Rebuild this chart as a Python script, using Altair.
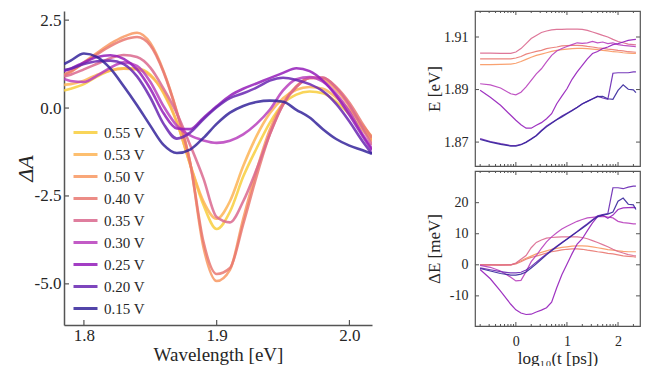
import altair as alt
import pandas as pd

# ---------------- left panel data ----------------
energy = [1.785, 1.79, 1.80, 1.81, 1.82, 1.83, 1.84, 1.85, 1.86, 1.87, 1.88, 1.89, 1.90,
          1.91, 1.92, 1.93, 1.94, 1.95, 1.96, 1.97, 1.98, 1.99, 2.00, 2.01, 2.017]
labels = ["0.55 V", "0.53 V", "0.50 V", "0.40 V", "0.35 V", "0.30 V", "0.25 V", "0.20 V", "0.15 V"]
colors = ["#f8ce3d", "#fdb456", "#f89862", "#e97871", "#da688e", "#b83fbd", "#941dba", "#6826b2", "#35259b"]

dA_055 = [0.50, 0.55, 0.68, 0.90, 1.07, 1.13, 1.12, 0.95, 0.42, -0.40, -1.60, -2.75, -3.44,
          -2.95, -1.95, -1.15, -0.42, 0.12, 0.38, 0.47, 0.42, 0.18, -0.18, -0.62, -0.90]
dA_053 = [0.66, 0.68, 0.78, 0.95, 1.07, 1.12, 1.10, 0.92, 0.45, -0.40, -1.60, -2.65, -3.15,
          -2.65, -1.65, -0.80, -0.15, 0.28, 0.52, 0.60, 0.55, 0.30, -0.05, -0.50, -0.82]
dA_050 = [0.92, 1.02, 1.30, 1.57, 1.83, 2.03, 2.14, 1.85, 1.05, -0.10, -1.55, -3.95, -4.92,
          -4.60, -3.15, -1.78, -0.62, 0.15, 0.62, 0.86, 0.82, 0.52, 0.05, -0.55, -0.95]
dA_040 = [0.95, 1.05, 1.28, 1.53, 1.76, 1.94, 2.02, 1.78, 1.02, -0.12, -1.55, -3.80, -4.72,
          -4.55, -3.30, -1.95, -0.75, 0.10, 0.60, 0.85, 0.86, 0.60, 0.15, -0.45, -0.85]
dA_035 = [0.90, 0.95, 1.10, 1.26, 1.42, 1.51, 1.45, 1.15, 0.55, -0.15, -1.05, -2.00, -3.10,
          -3.25, -2.65, -1.75, -0.75, 0.10, 0.60, 0.86, 0.87, 0.58, 0.08, -0.58, -1.05]
dA_030 = [0.83, 0.77, 0.74, 0.92, 1.15, 1.30, 1.20, 0.75, 0.05, -0.50, -0.78, -0.92, -0.99,
          -0.93, -0.75, -0.45, -0.05, 0.50, 0.82, 0.88, 0.75, 0.40, -0.10, -0.75, -1.15]
dA_025 = [1.05, 1.12, 1.30, 1.45, 1.50, 1.40, 1.10, 0.55, -0.15, -0.58, -0.60, -0.28, 0.05,
          0.35, 0.55, 0.70, 0.85, 1.00, 1.13, 1.05, 0.78, 0.35, -0.20, -0.80, -1.20]
dA_020 = [1.08, 1.12, 1.25, 1.33, 1.35, 1.25, 0.90, 0.30, -0.45, -0.87, -0.70, -0.32, 0.02,
          0.28, 0.42, 0.58, 0.78, 0.86, 0.80, 0.68, 0.48, 0.12, -0.38, -0.95, -1.30]
dA_015 = [1.25, 1.35, 1.55, 1.45, 1.12, 0.62, 0.08, -0.50, -1.05, -1.28, -1.18, -0.85, -0.45,
          -0.13, 0.06, 0.17, 0.21, 0.18, -0.05, -0.27, -0.60, -0.88, -1.07, -1.20, -1.30]
left_series = [dA_055, dA_053, dA_050, dA_040, dA_035, dA_030, dA_025, dA_020, dA_015]

left_xticks = [1.8, 1.9, 2.0]
left_yticks = [2.5, 0.0, -2.5, -5.0]

# ---------------- right panels data ----------------
logt = [-0.7, -0.5, -0.3, -0.1, 0.0, 0.1, 0.2, 0.3, 0.4, 0.5, 0.6, 0.7, 0.8, 0.9, 1.0,
        1.1, 1.2, 1.3, 1.4, 1.5, 1.6, 1.7, 1.8, 1.9, 2.0, 2.1, 2.2, 2.3, 2.35]
right_labels = ["0.50 V", "0.40 V", "0.35 V", "0.30 V", "0.25 V", "0.20 V", "0.15 V"]

E_050 = [1.8995, 1.8995, 1.8996, 1.8997, 1.9000, 1.9007, 1.9015, 1.9023, 1.9030, 1.9035,
         1.9040, 1.9045, 1.9049, 1.9052, 1.9054, 1.9056, 1.9057, 1.9057, 1.9056, 1.9054,
         1.9052, 1.9049, 1.9047, 1.9044, 1.9043, 1.9040, 1.9039, 1.9038, 1.9038]
E_040 = [1.9017, 1.9017, 1.9017, 1.9017, 1.9020, 1.9026, 1.9035, 1.9040, 1.9045, 1.9049,
         1.9056, 1.9059, 1.9062, 1.9066, 1.9067, 1.9068, 1.9068, 1.9067, 1.9064, 1.9062,
         1.9059, 1.9057, 1.9054, 1.9052, 1.9049, 1.9047, 1.9044, 1.9043, 1.9042]
E_035 = [1.9039, 1.9039, 1.9038, 1.9038, 1.9043, 1.9056, 1.9075, 1.9094, 1.9106, 1.9117,
         1.9123, 1.9127, 1.9129, 1.9129, 1.9130, 1.9130, 1.9130, 1.9129, 1.9125, 1.9119,
         1.9113, 1.9106, 1.9100, 1.9091, 1.9083, 1.9078, 1.9073, 1.9071, 1.9070]
E_030 = [1.8922, 1.8918, 1.8906, 1.8884, 1.8880, 1.8890, 1.8910, 1.8935, 1.8960, 1.8979,
         1.9005, 1.9030, 1.9047, 1.9056, 1.9064, 1.9071, 1.9078, 1.9076, 1.9078, 1.9083,
         1.9078, 1.9081, 1.9075, 1.9078, 1.9071, 1.9068, 1.9066, 1.9064, 1.9063]
E_025 = [1.8897, 1.8871, 1.8840, 1.8802, 1.8783, 1.8766, 1.8753, 1.8753, 1.8764, 1.8774,
         1.8789, 1.8808, 1.8846, 1.8875, 1.8903, 1.8939, 1.8967, 1.8992, 1.9017, 1.9037,
         1.9045, 1.9056, 1.9062, 1.9071, 1.9075, 1.9081, 1.9087, 1.9090, 1.9091]
E_020 = [1.8713, 1.8702, 1.8694, 1.8687, 1.8687, 1.8691, 1.8700, 1.8713, 1.8725, 1.8744,
         1.8761, 1.8774, 1.8786, 1.8799, 1.8810, 1.8821, 1.8833, 1.8846, 1.8855, 1.8865,
         1.8875, 1.8868, 1.8863, 1.8962, 1.8964, 1.8964, 1.8964, 1.8967, 1.8967]
E_015 = [1.8710, 1.8700, 1.8691, 1.8685, 1.8685, 1.8690, 1.8699, 1.8711, 1.8724, 1.8742,
         1.8758, 1.8772, 1.8785, 1.8796, 1.8808, 1.8819, 1.8832, 1.8845, 1.8855, 1.8864,
         1.8873, 1.8874, 1.8865, 1.8863, 1.8897, 1.8918, 1.8901, 1.8899, 1.8888]
E_series = [E_050, E_040, E_035, E_030, E_025, E_020, E_015]

dE_050 = [0.0, 0.0, 0.0, 0.0, 0.5, 1.3, 2.1, 2.8, 3.5, 4.0, 4.5, 5.0, 5.3, 5.6, 5.8,
          6.0, 6.1, 6.1, 6.0, 5.8, 5.5, 5.2, 4.9, 4.7, 4.5, 4.3, 4.2, 4.2, 4.2]
dE_040 = [0.0, 0.0, 0.0, 0.0, 0.3, 1.0, 1.8, 2.4, 2.8, 3.3, 3.8, 4.2, 4.5, 4.8, 5.0,
          5.1, 5.1, 5.0, 4.7, 4.5, 4.2, 4.0, 3.7, 3.5, 3.2, 2.9, 2.7, 2.6, 2.5]
dE_035 = [0.0, 0.0, -0.1, 0.0, 0.6, 1.8, 3.0, 5.5, 7.2, 8.0, 8.6, 8.8, 8.9, 9.0, 9.0,
          9.0, 9.0, 8.8, 8.4, 7.8, 7.2, 6.5, 5.8, 5.0, 4.3, 3.8, 3.3, 3.0, 2.9]
dE_030 = [-0.2, -0.8, -2.0, -4.0, -5.2, -5.0, -2.2, 1.0, 3.0, 5.3, 7.4, 9.0, 10.3, 11.5, 12.4,
          13.2, 14.0, 14.6, 15.1, 15.3, 15.5, 15.6, 15.4, 15.1, 14.0, 13.6, 13.4, 13.2, 13.2]
dE_025 = [-1.5, -4.5, -8.5, -12.7, -14.5, -15.5, -16.0, -15.9, -15.2, -14.6, -13.8, -12.0, -7.4, -3.2, 0.2,
          3.6, 6.7, 8.4, 11.0, 13.5, 15.5, 16.0, 15.0, 16.0, 17.8, 18.3, 18.4, 18.5, 18.3]
dE_020 = [-1.0, -1.6, -2.2, -2.6, -2.6, -2.4, -1.7, -0.5, 0.8, 2.2, 3.5, 4.8, 6.0, 7.2, 8.3,
          9.5, 10.7, 12.0, 13.2, 14.5, 15.8, 16.2, 16.5, 24.8, 24.8, 24.5, 25.0, 25.3, 25.3]
dE_015 = [-1.2, -2.0, -2.8, -3.3, -3.3, -3.0, -2.3, -1.0, 0.3, 1.8, 3.2, 4.5, 5.8, 7.0, 8.2,
          9.4, 10.6, 11.8, 13.0, 14.3, 15.5, 16.0, 16.3, 17.0, 20.5, 21.5, 19.5, 19.3, 17.8]
dE_series = [dE_050, dE_040, dE_035, dE_030, dE_025, dE_020, dE_015]

top_yticks = [1.87, 1.89, 1.91]
bot_yticks = [-10, 0, 10, 20]
right_xticks = [0, 1, 2]
right_minor = [-0.699, -0.523, -0.398, -0.301, -0.222, -0.155, -0.097, -0.046,
               0.301, 0.477, 0.602, 0.699, 0.778, 0.845, 0.903, 0.954,
               1.301, 1.477, 1.602, 1.699, 1.778, 1.845, 1.903, 1.954, 2.301]

# ---------------- tables ----------------
df_left = pd.DataFrame([{"E": e, "dA": v, "V": lab}
                        for lab, ys in zip(labels, left_series) for e, v in zip(energy, ys)])
df_top = pd.DataFrame([{"t": t, "E": v, "V": lab}
                       for lab, ys in zip(right_labels, E_series) for t, v in zip(logt, ys)])
df_bot = pd.DataFrame([{"t": t, "dE": v, "V": lab}
                       for lab, ys in zip(right_labels, dE_series) for t, v in zip(logt, ys)])

FONT = "Liberation Serif"
TXT = "#262626"
AX = "#555555"
color_scale = alt.Scale(domain=labels, range=colors)
MINUS = "replace(format(datum.value, '{f}'), '\u2212', '-')"

# ---------------- left panel ----------------
LW, LH = 308, 314
xs_left = alt.Scale(domain=[1.785, 2.017], nice=False, zero=False)
ys_left = alt.Scale(domain=[-6.17, 2.76], nice=False, zero=False)

ax_left_x = alt.Axis(
    values=left_xticks, labelExpr=MINUS.format(f=".1f"), title="Wavelength [eV]",
    ticks=False, tickSize=0, grid=False, domainColor=AX, domainWidth=1.5,
    labelFont=FONT, labelFontSize=17, labelColor=TXT, labelPadding=2,
    titleFont=FONT, titleFontSize=19, titleFontWeight="normal", titleColor=TXT, titlePadding=2)
ax_left_y = alt.Axis(
    values=left_yticks, labelExpr=MINUS.format(f=".1f"), title="ΔA",
    ticks=False, tickSize=0, grid=False, domainColor=AX, domainWidth=1.5,
    labelFont=FONT, labelFontSize=17, labelColor=TXT, labelPadding=3,
    titleFont=FONT, titleFontSize=22, titleFontWeight="normal", titleFontStyle="italic",
    titleColor=TXT, titleX=-32, titleBaseline="alphabetic")

left_lines = alt.Chart(df_left).mark_line(
    strokeWidth=2.6, strokeOpacity=0.85, interpolate="monotone", clip=True
).encode(
    x=alt.X("E:Q", scale=xs_left, axis=ax_left_x),
    y=alt.Y("dA:Q", scale=ys_left, axis=ax_left_y),
    color=alt.Color("V:N", scale=color_scale, legend=alt.Legend(
        title=None, orient="none", legendX=8, legendY=108, symbolType="stroke",
        symbolSize=576, symbolStrokeWidth=3, symbolOpacity=0.85,
        labelFont=FONT, labelFontSize=15, labelColor=TXT, labelOffset=5,
        rowPadding=-1.5, padding=0)),
)

left_yt = alt.Chart(pd.DataFrame({"v": left_yticks})).mark_rule(color=AX, strokeWidth=1.2).encode(
    y=alt.Y("v:Q", scale=ys_left, axis=ax_left_y), x=alt.value(0), x2=alt.value(5))
left_xt = alt.Chart(pd.DataFrame({"v": left_xticks})).mark_rule(color=AX, strokeWidth=1.2).encode(
    x=alt.X("v:Q", scale=xs_left, axis=ax_left_x), y=alt.value(LH), y2=alt.value(LH - 5))

left = alt.layer(left_lines, left_yt, left_xt).properties(width=LW, height=LH)

# ---------------- right panels ----------------
RW, RH = 165, 155
xs_right = alt.Scale(domain=[-0.8, 2.43], nice=False, zero=False)
ys_top = alt.Scale(domain=[1.8609, 1.9199], nice=False, zero=False)
ys_bot = alt.Scale(domain=[-19.7, 30.2], nice=False, zero=False)


def yaxis(vals, fmt, title):
    return alt.Axis(values=vals, labelExpr=MINUS.format(f=fmt), title=title,
                    ticks=False, tickSize=0, grid=False, domain=False,
                    labelFont=FONT, labelFontSize=14, labelColor=TXT, labelPadding=7,
                    titleFont=FONT, titleFontSize=17, titleFontWeight="normal", titleColor=TXT,
                    titleX=-36, titleBaseline="alphabetic")


ax_bot_x = alt.Axis(
    values=right_xticks, format="d", title="log\u2081\u2080(t [ps])",
    ticks=False, tickSize=0, grid=False, domain=False,
    labelFont=FONT, labelFontSize=14, labelColor=TXT, labelPadding=8,
    titleFont=FONT, titleFontSize=17, titleFontWeight="normal", titleColor=TXT, titlePadding=2)


def frame_ticks(yscale, yvals, yax, xax):
    dfy = pd.DataFrame({"v": yvals})
    dfx = pd.DataFrame({"v": right_xticks})
    dfm = pd.DataFrame({"v": right_minor})
    r = dict(color=AX, strokeWidth=1.0)
    out = []
    out.append(alt.Chart(dfy).mark_rule(**r).encode(
        y=alt.Y("v:Q", scale=yscale, axis=yax), x=alt.value(0), x2=alt.value(4)))
    out.append(alt.Chart(dfy).mark_rule(**r).encode(
        y=alt.Y("v:Q", scale=yscale, axis=yax), x=alt.value(RW - 4), x2=alt.value(RW)))
    out.append(alt.Chart(dfx).mark_rule(**r).encode(
        x=alt.X("v:Q", scale=xs_right, axis=xax), y=alt.value(0), y2=alt.value(4)))
    out.append(alt.Chart(dfx).mark_rule(**r).encode(
        x=alt.X("v:Q", scale=xs_right, axis=xax), y=alt.value(RH - 4), y2=alt.value(RH)))
    out.append(alt.Chart(dfm).mark_rule(**r).encode(
        x=alt.X("v:Q", scale=xs_right, axis=xax), y=alt.value(0), y2=alt.value(2)))
    out.append(alt.Chart(dfm).mark_rule(**r).encode(
        x=alt.X("v:Q", scale=xs_right, axis=xax), y=alt.value(RH - 2), y2=alt.value(RH)))
    return out


ax_top_y = yaxis(top_yticks, ".2f", "E [eV]")
top_lines = alt.Chart(df_top).mark_line(strokeWidth=1.2, strokeOpacity=0.9, clip=True).encode(
    x=alt.X("t:Q", scale=xs_right, axis=None),
    y=alt.Y("E:Q", scale=ys_top, axis=ax_top_y),
    color=alt.Color("V:N", scale=color_scale, legend=None),
)
top = alt.layer(top_lines, *frame_ticks(ys_top, top_yticks, ax_top_y, None)).properties(
    width=RW, height=RH, view=alt.ViewBackground(stroke=AX, strokeWidth=1.2))

ax_bot_y = yaxis(bot_yticks, "d", "ΔE [meV]")
bot_lines = alt.Chart(df_bot).mark_line(strokeWidth=1.2, strokeOpacity=0.9, clip=True).encode(
    x=alt.X("t:Q", scale=xs_right, axis=ax_bot_x),
    y=alt.Y("dE:Q", scale=ys_bot, axis=ax_bot_y),
    color=alt.Color("V:N", scale=color_scale, legend=None),
)
bot = alt.layer(bot_lines, *frame_ticks(ys_bot, bot_yticks, ax_bot_y, ax_bot_x)).properties(
    width=RW, height=RH, view=alt.ViewBackground(stroke=AX, strokeWidth=1.2))

right = alt.vconcat(top, bot, spacing=5, bounds="flush").resolve_scale(color="independent")

chart = alt.hconcat(left, right, spacing=103, bounds="flush").resolve_scale(
    color="independent"
).properties(
    padding={"left": 14, "top": 9, "right": 5, "bottom": 5},
    background="white",
).configure_view(stroke=None)

chart.save("out.html", embed_options={"renderer": "svg", "actions": False})
